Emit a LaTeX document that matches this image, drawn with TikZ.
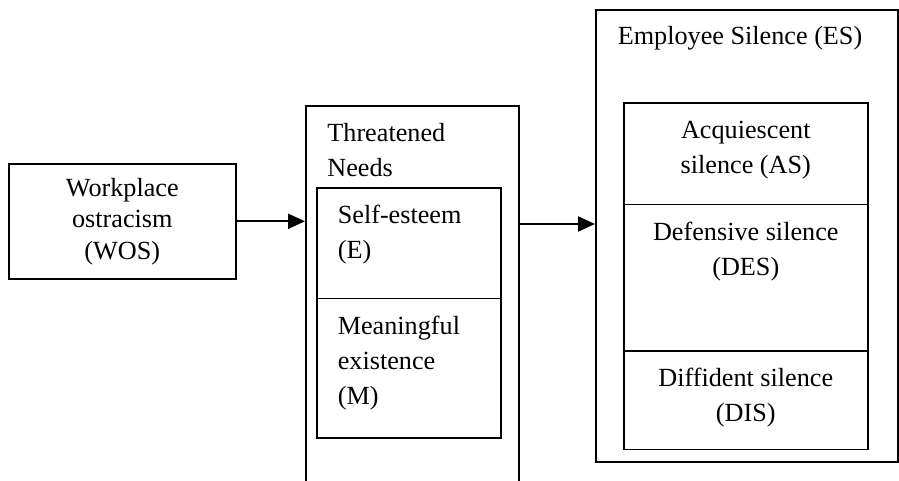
\documentclass[tikz,border=0pt]{standalone}
\usepackage{fontspec}
\setmainfont{Liberation Serif}
\usetikzlibrary{shapes,arrows.meta}

% one part of a stacked box: height, width, text
\newcommand{\cellL}[3]{\parbox[c][#1][t]{#2}{\raggedright\leftskip=10.5pt\vspace*{5.25pt}\strut #3}}
\newcommand{\cellC}[3]{\parbox[c][#1][t]{#2}{\centering\vspace*{5.25pt}\strut #3}}

\begin{document}
\begin{tikzpicture}[x=0.5pt,y=-0.5pt]
  \tikzstyle{every node}=[font=\fontsize{13.1pt}{17.5pt}\selectfont, inner sep=0pt]
  \tikzstyle{box}=[draw, line width=0.8pt, rectangle, anchor=north west]
  \tikzstyle{stack}=[draw, line width=0.8pt, rectangle split, anchor=north west]
  \tikzstyle{arr}=[line width=1.1pt, -{Triangle[length=8.5pt,width=7.5pt]}]
  \clip (0,0) rectangle (899,481);
  % ostracism
  \node (wos) [box, align=center, minimum width=113.5pt, minimum height=57.5pt,
    font=\fontsize{13.1pt}{15.75pt}\selectfont] at (8,163) {Workplace\\ostracism\\(WOS)};
  % needs
  \node (needs) [box, minimum width=106.5pt, minimum height=215pt] at (305,105) {};
  \node (needstitle) [anchor=base west, text width=90pt] at (327,141) {Threatened\\Needs};
  \node (needsin) [stack, rectangle split parts=2] at (316,187)
    {\cellL{54.5pt}{92pt}{Self-esteem\\(E)}
     \nodepart{two}\cellL{69pt}{92pt}{Meaningful\\existence\\(M)}};
  % silence
  \node (es) [box, minimum width=151pt, minimum height=226pt] at (595,9) {};
  \node (estitle) [anchor=base] at (740,45) {Employee Silence (ES)};
  \node (esin) [stack, rectangle split parts=3] at (623,102)
    {\cellC{50pt}{122pt}{Acquiescent\\silence (AS)}
     \nodepart{two}\cellC{72.5pt}{122pt}{Defensive silence\\(DES)}
     \nodepart{three}\cellC{48.5pt}{122pt}{Diffident silence\\(DIS)}};
  \coordinate (mid) at (0,224);
  \draw[arr] (wos.east) -- (wos.east -| needs.west);
  \draw[arr] (needs.east |- mid) -- (es.west |- mid);
\end{tikzpicture}
\end{document}
